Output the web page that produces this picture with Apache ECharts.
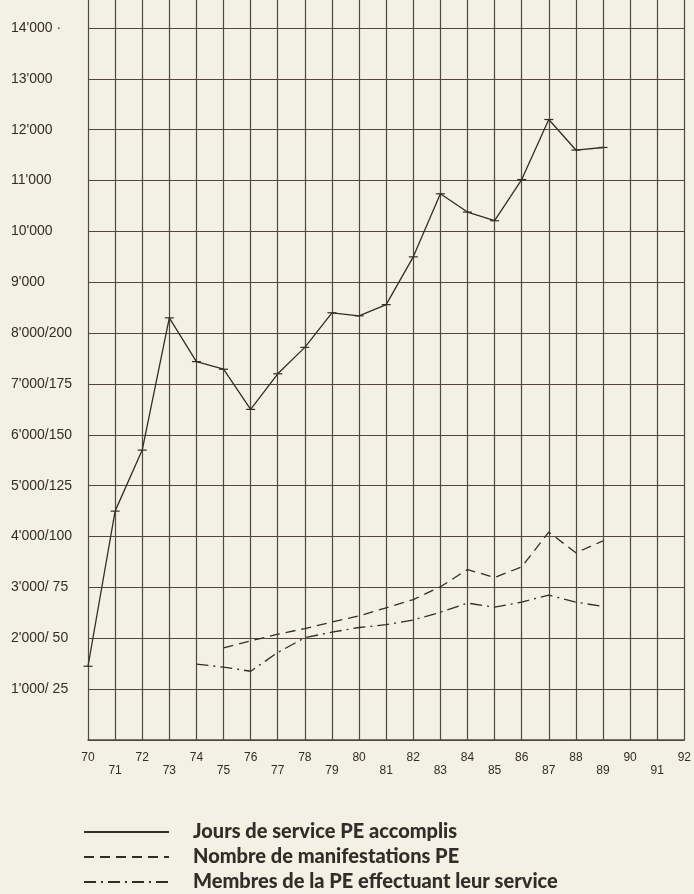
<!DOCTYPE html>
<html>
<head>
<meta charset="utf-8">
<script src="https://cdn.jsdelivr.net/npm/echarts@6/dist/echarts.min.js"></script>
<style>
  html, body { margin: 0; padding: 0; background: #f2f1e3; }
  #chart { width: 694px; height: 894px; }
</style>
</head>
<body>
<div id="chart"></div>
<script>
// années 1970 - 1992
const years = ['70', '71', '72', '73', '74', '75', '76', '77', '78', '79', '80', '81',
  '82', '83', '84', '85', '86', '87', '88', '89', '90', '91', '92']

// échelle de gauche (jours) / échelle de droite (manifestations, membres)
const yTickLabels = ["1'000/ 25", "2'000/ 50", "3'000/ 75", "4'000/100", "5'000/125",
  "6'000/150", "7'000/175", "8'000/200", "9'000", "10'000", "11'000", "12'000",
  "13'000", "14'000 ·"]

const joursService = [1450, 4500, 5700, 8300, 7440, 7290, 6500, 7200, 7720, 8400, 8340,
  8560, 9500, 10740, 10380, 10210, 11020, 12200, 11600, 11650, null, null, null]
const manifestations = [null, null, null, null, null, 45.3, 48.7, 52, 54.8, 58, 61,
  65, 69, 75.3, 83.8, 79.9, 85.1, 102.2, 92, 97.9, null, null, null]
const membres = [null, null, null, null, 37.3, 35.8, 33.8, 43, 50.3, 53, 55.3,
  56.7, 59, 62.8, 67.3, 65.3, 67.8, 71.2, 67.8, 65.6, null, null, null]

const seriesNames = ['Jours de service PE accomplis', 'Nombre de manifestations PE',
  'Membres de la PE effectuant leur service']

const ink = '#342c28'
const gridInk = '#54473f'
const leftMax = 14550
const ratio = 40 // 1'000 jours = 25

const myChart = echarts.init(document.getElementById('chart'))
myChart.setOption({
  backgroundColor: '#f2f1e3',
  animation: false,
  grid: { left: 88, right: 5, top: 0, bottom: 154 },
  legend: {
    orient: 'vertical',
    left: 83,
    top: 822,
    padding: 0,
    itemWidth: 85,
    itemHeight: 14,
    itemGap: 5,
    data: seriesNames,
    itemStyle: { opacity: 0 },
    lineStyle: { width: 2 },
    textStyle: {
      color: ink,
      fontFamily: 'Lato',
      fontWeight: 900,
      fontSize: 20,
      lineHeight: 20,
      padding: [0, 0, 0, 19]
    }
  },
  xAxis: {
    type: 'category',
    boundaryGap: false,
    data: years,
    axisLine: { lineStyle: { color: gridInk, width: 1.5 } },
    axisTick: { show: false },
    splitLine: { show: true, lineStyle: { color: gridInk, width: 1.2 } },
    axisLabel: {
      interval: 0,
      margin: 11,
      formatter: (v) => (Number(v) % 2 === 0 ? '{a|' + v + '}' : '{b|' + v + '}'),
      rich: {
        a: { color: ink, fontFamily: 'Liberation Sans', fontSize: 12, lineHeight: 14 },
        b: { color: ink, fontFamily: 'Liberation Sans', fontSize: 12, lineHeight: 14, padding: [26, 0, 0, 0] }
      }
    }
  },
  yAxis: [
    {
      type: 'value',
      min: 0,
      max: leftMax,
      interval: 1000,
      axisLine: { show: false },
      axisTick: { show: false },
      splitLine: { show: true, showMaxLine: false, lineStyle: { color: gridInk, width: 1.2 } },
      axisLabel: {
        align: 'left',
        margin: 77,
        color: ink,
        fontFamily: 'Liberation Sans',
        fontSize: 14,
        showMaxLabel: false,
        formatter: (v) => (v > 0 && v % 1000 === 0 && v <= 14000 ? yTickLabels[v / 1000 - 1] : '')
      }
    },
    {
      type: 'value',
      show: false,
      min: 0,
      max: leftMax / ratio,
      splitLine: { show: false }
    }
  ],
  series: [
    {
      name: seriesNames[0],
      type: 'line',
      data: joursService,
      symbol: 'rect',
      symbolSize: [9, 1.2],
      itemStyle: { color: ink },
      lineStyle: { color: ink, width: 1.3, type: 'solid' }
    },
    {
      name: seriesNames[1],
      type: 'line',
      yAxisIndex: 1,
      data: manifestations,
      symbol: 'none',
      itemStyle: { color: ink },
      lineStyle: { color: ink, width: 1.3, type: [10, 6] }
    },
    {
      name: seriesNames[2],
      type: 'line',
      yAxisIndex: 1,
      data: membres,
      symbol: 'none',
      itemStyle: { color: ink },
      lineStyle: { color: ink, width: 1.3, type: [12, 5, 2, 5] }
    }
  ]
})
</script>
</body>
</html>
